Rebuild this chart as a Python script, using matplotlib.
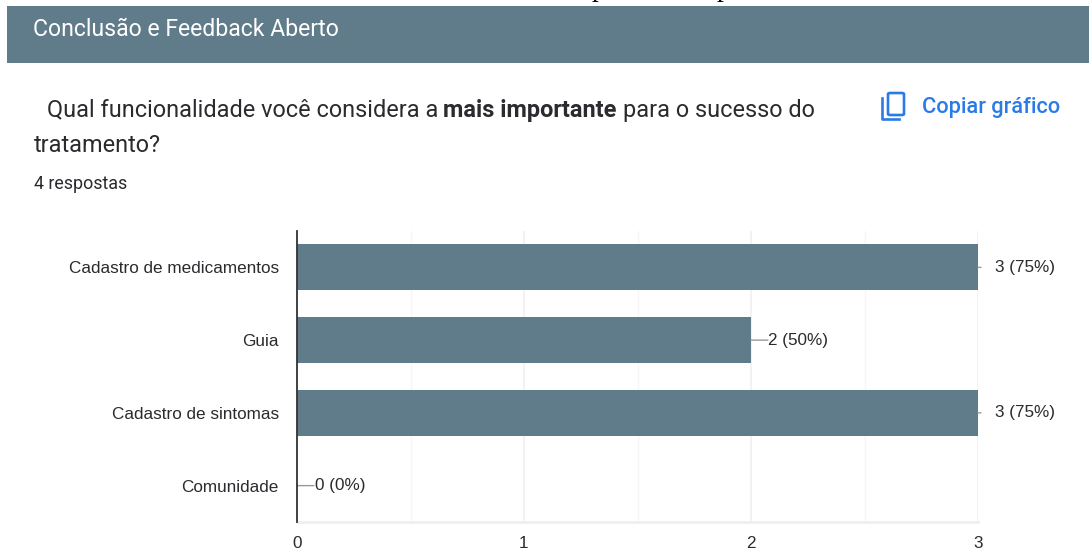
import matplotlib.pyplot as plt
from matplotlib.patches import Rectangle, FancyBboxPatch
from matplotlib.lines import Line2D

W, H = 1089, 550

categories = ["Cadastro de medicamentos", "Guia", "Cadastro de sintomas", "Comunidade"]
counts = [3, 2, 3, 0]
value_labels = ["3 (75%)", "2 (50%)", "3 (75%)", "0 (0%)"]
xticks = [0, 1, 2, 3]
minor_xticks = [0.5, 1.5, 2.5]

header_text = "Conclusão e Feedback Aberto"
question_start = "Qual funcionalidade você considera a"
question_bold = "mais importante"
question_end = "para o sucesso do"
question_line2 = "tratamento?"
responses_text = "4 respostas"
copy_text = "Copiar gráfico"

SLATE = "#607b89"
BLUE = "#2a7be8"
INK = "#2a2b2e"

plt.rcParams["font.family"] = ["Liberation Sans", "DejaVu Sans"]


def px(x, y):
    return x / W, 1 - y / H


def label(x, y, s, **kw):
    fx, fy = px(x, y)
    kw.setdefault("family", "Roboto")
    kw.setdefault("va", "center")
    fig.text(fx, fy, s, **kw)


fig = plt.figure(figsize=(W / 100, H / 100), dpi=100, facecolor="white")

# header band
fig.add_artist(Rectangle(px(7, 63), (W - 7) / W, 57 / H, transform=fig.transFigure, color=SLATE, lw=0))
label(33, 29, header_text, color="white", fontsize=16.6)

# bits of the page above that got cut off by the screenshot
label(592, -4, "p", family="Liberation Serif", color="black", fontsize=20, va="baseline")
label(717, -4, "p", family="Liberation Serif", color="black", fontsize=20, va="baseline")

# question
label(47, 110, question_start, color=INK, fontsize=16.9)
label(443, 110, question_bold, color=INK, fontsize=16.9, fontweight="bold")
label(623, 110, question_end, color=INK, fontsize=16.9)
label(34, 145, question_line2, color=INK, fontsize=16.9)
label(34, 184, responses_text, color=INK, fontsize=12.9)

# copy icon
fig.add_artist(FancyBboxPatch(px(888, 115), 16 / W, 22 / H, boxstyle="round,pad=0,rounding_size=0.002",
                              transform=fig.transFigure, fc="none", ec=BLUE, lw=1.9))
x0, y0 = px(882, 98)
x1, y1 = px(882, 119)
x2, y2 = px(899, 119)
fig.add_artist(Line2D([x0, x1, x2], [y0, y1, y2], transform=fig.transFigure, color=BLUE, lw=1.9))
label(922, 107, copy_text, color=BLUE, fontsize=15.7, fontweight="medium")

# chart
ax = fig.add_axes([297 / W, 1 - 522 / H, 681 / W, 291 / H])
positions = list(range(len(categories)))
ax.barh(positions, counts, height=0.63, color=SLATE, zorder=3)
ax.set_xlim(0, 3)
ax.set_ylim(3.5, -0.5)

ax.set_xticks(xticks)
ax.set_xticks(minor_xticks, minor=True)
ax.set_yticks(positions, categories)
ax.grid(axis="x", which="major", color="#f0f0f0", lw=1.2, zorder=0)
ax.grid(axis="x", which="minor", color="#f6f6f6", lw=1.0, zorder=0)
ax.tick_params(axis="both", which="both", length=0)
ax.tick_params(axis="y", pad=13, labelsize=12.35, labelcolor=INK)
ax.tick_params(axis="x", pad=10, labelsize=12.35, labelcolor=INK)

for side in ["top", "right"]:
    ax.spines[side].set_visible(False)
ax.spines["bottom"].set_color("#efefef")
ax.spines["bottom"].set_linewidth(2)
ax.spines["left"].set_color("#333333")
ax.spines["left"].set_linewidth(1.3)
ax.spines["left"].set_zorder(5)

for pos, value, text in zip(positions, counts, value_labels):
    stub = 3 if value == max(counts) else 17
    ax.annotate(text, xy=(value, pos), xytext=(18 if value == 0 else 17, 0), textcoords="offset pixels",
                va="center", ha="left", fontsize=12.35, color=INK, annotation_clip=False)
    ax.annotate("", xy=(value, pos), xytext=(stub, 0), textcoords="offset pixels",
                arrowprops=dict(arrowstyle="-", color="#999999", lw=1, shrinkA=0, shrinkB=0),
                annotation_clip=False)

fig.savefig("out.png", dpi=100)
